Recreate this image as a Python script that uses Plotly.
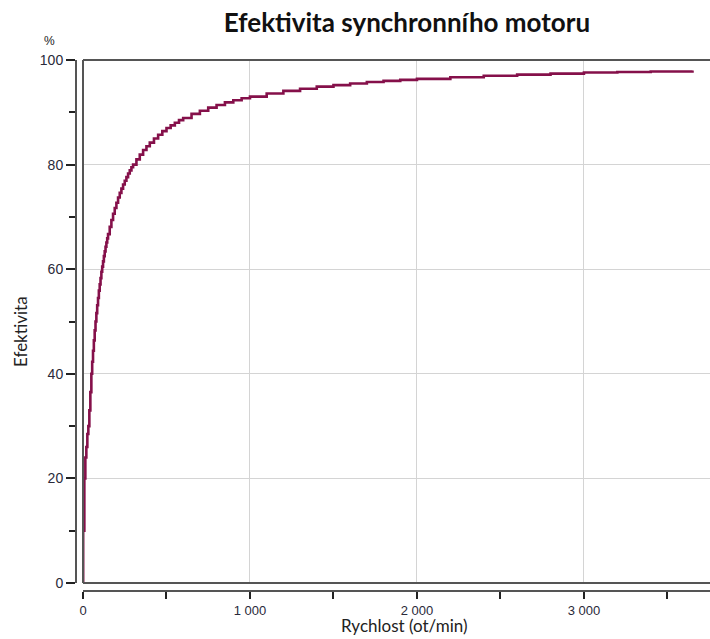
import plotly.graph_objects as go

# Data
speed_rpm = [0, 1, 8, 14, 20, 26, 32, 38, 44, 50, 55, 60, 65, 70, 75, 80, 85, 90, 95,
             100, 105, 110, 115, 120, 125, 130, 135, 140, 145, 150, 160, 170, 180, 190,
             200, 210, 220, 230, 240, 250, 260, 270, 280, 290, 300, 320, 340, 360, 380,
             400, 425, 450, 475, 500, 525, 550, 575, 600, 650, 700, 750, 800, 850, 900,
             950, 1000, 1100, 1200, 1300, 1400, 1500, 1600, 1700, 1800, 1900, 2000, 2200,
             2400, 2600, 2800, 3000, 3200, 3400, 3650]
efficiency_pct = [0, 10, 20, 24, 26, 28.5, 30, 33, 36.5, 40, 42.3, 44.4, 46.4, 48.3, 50,
                  51.6, 53.1, 54.5, 55.9, 57.1, 58.3, 59.5, 60.5, 61.5, 62.5, 63.4, 64.3,
                  65.1, 65.9, 66.7, 68.1, 69.4, 70.6, 71.7, 72.7, 73.7, 74.6, 75.4, 76.2,
                  76.9, 77.6, 78.3, 78.9, 79.5, 80, 81, 81.9, 82.8, 83.5, 84.2, 85, 85.7,
                  86.4, 87, 87.5, 88, 88.5, 88.9, 89.7, 90.3, 90.9, 91.4, 91.9, 92.3, 92.7,
                  93, 93.6, 94.1, 94.5, 94.9, 95.2, 95.5, 95.8, 96, 96.2, 96.4, 96.7, 97,
                  97.2, 97.4, 97.6, 97.7, 97.8, 98]

x_tick_vals = [0, 1000, 2000, 3000]
x_tick_text = ["0", "1 000", "2 000", "3 000"]
x_minor_vals = [500, 1500, 2500, 3500]
y_tick_vals = [0, 20, 40, 60, 80, 100]
y_tick_text = ["0", "20", "40", "60", "80", "100"]
y_minor_vals = [10, 30, 50, 70, 90]

title_text = "Efektivita synchronního motoru"
x_title = "Rychlost (ot/min)"
y_title = "Efektivita"
y_unit = "%"

W, H = 710, 639
ml, mr, mt, mb = 76, 0, 60, 48
pw, ph = W - ml - mr, H - mt - mb
x_dom0 = 7 / pw
y_dom0 = 8 / ph

fig = go.Figure()
fig.add_trace(go.Scatter(
    x=speed_rpm, y=efficiency_pct, mode="lines",
    line=dict(color="#85104A", width=2.6, shape="hv"),
    hoverinfo="x+y", showlegend=False,
))

axis_color = "#555555"
y_tick_font = dict(family="Liberation Sans, Arial, sans-serif", size=14, color="#2a2a3a")
x_tick_font = dict(family="Liberation Sans, Arial, sans-serif", size=13, color="#2a2a3a")

fig.update_layout(
    width=W, height=H,
    margin=dict(l=ml, r=mr, t=mt, b=mb, autoexpand=False),
    paper_bgcolor="white", plot_bgcolor="white",
    title=dict(text="<b>" + title_text + "</b>", x=(407 - ml) / pw, xref="paper",
               xanchor="center", y=1 - 23 / H, yanchor="middle", automargin=False,
               font=dict(family="Lato, Open Sans, sans-serif", size=26, color="#111111")),
    xaxis=dict(
        domain=[x_dom0, 1], anchor="free", position=0, automargin=False,
        range=[0, 3755], showgrid=True, gridcolor="#d4d4d4", gridwidth=1,
        tickvals=x_tick_vals, ticktext=x_tick_text,
        ticks="outside", ticklen=7, tickwidth=1.5, tickcolor="#222222",
        minor=dict(tickvals=x_minor_vals, ticks="outside", ticklen=7,
                   tickwidth=1.5, tickcolor="#222222", showgrid=False),
        showline=True, linecolor=axis_color, linewidth=2,
        tickfont=x_tick_font, zeroline=False,
    ),
    yaxis=dict(
        domain=[y_dom0, 1], anchor="free", position=0, automargin=False,
        range=[0, 100], showgrid=True, gridcolor="#d4d4d4", gridwidth=1,
        tickvals=y_tick_vals, ticktext=y_tick_text,
        ticks="outside", ticklen=9, tickwidth=1.5, tickcolor="#222222",
        minor=dict(tickvals=y_minor_vals, ticks="outside", ticklen=6,
                   tickwidth=1.5, tickcolor="#222222", showgrid=False),
        showline=True, linecolor=axis_color, linewidth=2,
        tickfont=y_tick_font, zeroline=False,
    ),
)

# Plot area border (top, left, bottom)
fig.add_shape(type="line", xref="x domain", yref="y domain", x0=0, x1=1, y0=1, y1=1,
              line=dict(color=axis_color, width=2))
fig.add_shape(type="line", xref="x domain", yref="y domain", x0=0, x1=0, y0=0, y1=1,
              line=dict(color=axis_color, width=2))
fig.add_shape(type="line", xref="x domain", yref="y domain", x0=0, x1=1, y0=0, y1=0,
              line=dict(color=axis_color, width=2))

# Axis titles and unit label
fig.add_annotation(text=x_title, xref="paper", yref="paper",
                   x=(404 - ml) / pw, y=-(mb - 1) / ph,
                   xanchor="center", yanchor="bottom", showarrow=False,
                   font=dict(family="Lato, Open Sans, sans-serif", size=17, color="#222222"))
fig.add_annotation(text=y_title, xref="paper", yref="paper",
                   x=-(ml - 20) / pw, y=1 - (331 - mt) / ph, textangle=-90,
                   xanchor="center", yanchor="middle", showarrow=False,
                   font=dict(family="Lato, Open Sans, sans-serif", size=17, color="#222222"))
fig.add_annotation(text=y_unit, xref="paper", yref="paper",
                   x=-(ml - 49) / pw, y=1 + (mt - 41) / ph,
                   xanchor="center", yanchor="middle", showarrow=False,
                   font=dict(family="Liberation Sans, Arial, sans-serif", size=12, color="#222222"))

fig.write_html("out.html", config={"displayModeBar": False},
               post_script="document.body.style.margin='0';document.body.style.padding='0';")
